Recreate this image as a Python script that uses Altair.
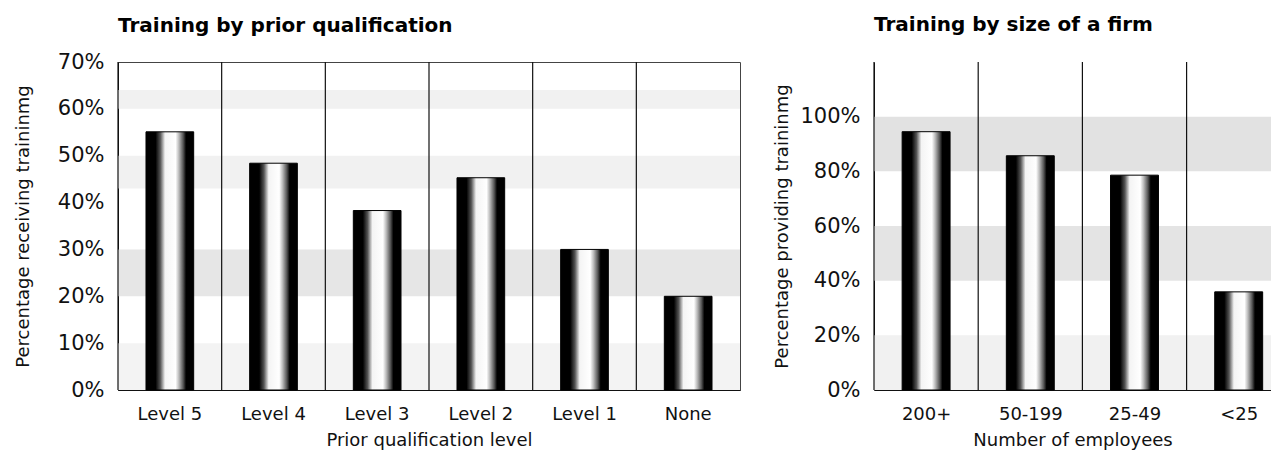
import json
import altair as alt
import pandas as pd

FONT = "DejaVu Sans"

# ---- data: left panel ----
qual_levels = ["Level 5", "Level 4", "Level 3", "Level 2", "Level 1", "None"]
qual_pct = [55.1, 48.4, 38.3, 45.3, 30.0, 20.0]
qual_ticks = [0, 10, 20, 30, 40, 50, 60, 70]

# ---- data: right panel ----
firm_sizes = ["200+", "50-199", "25-49", "<25"]
firm_pct = [94.5, 85.7, 78.6, 35.9]
firm_ticks = [0, 20, 40, 60, 80, 100]

# ---- background stipple bands (value ranges and shade) ----
qual_band_lo = [0, 20, 43, 60]
qual_band_hi = [10, 30, 50, 64]
qual_band_shade = ["#f3f3f3", "#e6e6e6", "#f1f1f1", "#f1f1f1"]
firm_band_lo = [0, 40, 80]
firm_band_hi = [20, 60, 100]
firm_band_shade = ["#f1f1f1", "#e4e4e4", "#e2e2e2"]

bar_fill = alt.LinearGradient(
    gradient="linear", x1=0, x2=1, y1=0, y2=0,
    stops=[
        alt.GradientStop(color="#000000", offset=0),
        alt.GradientStop(color="#000000", offset=0.2),
        alt.GradientStop(color="#555555", offset=0.3),
        alt.GradientStop(color="#f4f4f4", offset=0.4),
        alt.GradientStop(color="#ffffff", offset=0.62),
        alt.GradientStop(color="#bbbbbb", offset=0.69),
        alt.GradientStop(color="#555555", offset=0.78),
        alt.GradientStop(color="#000000", offset=0.84),
        alt.GradientStop(color="#000000", offset=1),
    ],
)


def y_axis(title, ticks, title_pad):
    return alt.Axis(
        title=title, values=ticks, labelExpr="datum.value + '%'", grid=False,
        ticks=False, domainColor="#111", labelFont=FONT, labelFontSize=21,
        labelColor="#111", labelPadding=14, titleFont=FONT, titleFontSize=18,
        titleFontWeight="normal", titleColor="#111", titlePadding=title_pad,
    )


def x_axis(title, **extra):
    return alt.Axis(
        title=title, labelAngle=0, ticks=False, grid=False, domainColor="#111",
        labelFont=FONT, labelFontSize=18, labelColor="#111", labelPadding=15,
        titleFont=FONT, titleFontSize=18, titleFontWeight="normal",
        titleColor="#111", titlePadding=8, **extra,
    )


def title(text, offset):
    return alt.TitleParams(text, anchor="start", frame="group", font=FONT,
                           fontSize=20, fontWeight="bold", color="#000", offset=offset)


# ---------------- left panel ----------------
qdf = pd.DataFrame({"level": qual_levels, "pct": qual_pct})
qbands = pd.DataFrame({"lo": qual_band_lo, "hi": qual_band_hi, "shade": qual_band_shade})
qy = alt.Scale(domain=[0, 70], nice=False)
qx = alt.Scale(paddingInner=0, paddingOuter=0)
qyax = y_axis("Percentage receiving traininmg", qual_ticks, 25)
qxax = x_axis("Prior qualification level")

q_bg = alt.Chart(qbands).mark_rect().encode(
    y=alt.Y("lo:Q", scale=qy, axis=qyax),
    y2="hi:Q",
    color=alt.Color("shade:N", scale=None),
)
q_rules = alt.Chart(pd.DataFrame({"level": qual_levels})).mark_rule(
    color="#111", strokeWidth=1.2
).encode(x=alt.X("level:N", sort=qual_levels, bandPosition=0, scale=qx, axis=qxax))
q_bars = alt.Chart(qdf).mark_bar(
    width=alt.RelativeBandSize(0.46), color=bar_fill, stroke="#000", strokeWidth=1
).encode(
    x=alt.X("level:N", sort=qual_levels, scale=qx, axis=qxax),
    y=alt.Y("pct:Q", scale=qy, axis=qyax),
)
left = alt.layer(q_bg, q_rules, q_bars).properties(
    width=622, height=328, title=title("Training by prior qualification", 15),
    view=alt.ViewBackground(stroke="#444", strokeWidth=1),
)

# ---------------- right panel ----------------
# the last column is cut off by the picture's edge, so the x scale is a
# continuous column index whose domain ends part-way through the 4th column
fdf = pd.DataFrame({"size": firm_sizes, "pct": firm_pct, "idx": list(range(len(firm_sizes)))})
fbands = pd.DataFrame({"lo": firm_band_lo, "hi": firm_band_hi, "shade": firm_band_shade})
fy = alt.Scale(domain=[0, 120], nice=False)
fx = alt.Scale(domain=[0, 3.81], nice=False, zero=False)
fyax = y_axis("Percentage providing traininmg", firm_ticks, 8)
fxax = x_axis(
    "Number of employees",
    values=[i + 0.5 for i in range(len(firm_sizes))],
    labelExpr=f"{json.dumps(firm_sizes)}[round(datum.value - 0.5)]",
    labelFlush=False,
)

f_bg = alt.Chart(fbands).mark_rect().encode(
    y=alt.Y("lo:Q", scale=fy, axis=fyax),
    y2="hi:Q",
    color=alt.Color("shade:N", scale=None),
)
f_rules = alt.Chart(fdf).mark_rule(color="#111", strokeWidth=1.2).encode(
    x=alt.X("idx:Q", scale=fx, axis=fxax)
)
f_bars = alt.Chart(fdf).transform_calculate(
    left_edge="datum.idx + 0.27", right_edge="datum.idx + 0.73", base="0"
).mark_rect(color=bar_fill, stroke="#000", strokeWidth=1).encode(
    x=alt.X("left_edge:Q", scale=fx, axis=fxax),
    x2="right_edge:Q",
    y=alt.Y("pct:Q", scale=fy, axis=fyax),
    y2="base:Q",
)
right = alt.layer(f_bg, f_rules, f_bars).properties(
    width=397, height=328, title=title("Training by size of a firm", 26),
)

chart = alt.hconcat(left, right, spacing=32).configure_view(strokeWidth=0).properties(
    padding={"left": 5, "right": 0, "top": 7, "bottom": 0}
)

chart.save("out.html", embed_options={"renderer": "svg", "actions": False})
